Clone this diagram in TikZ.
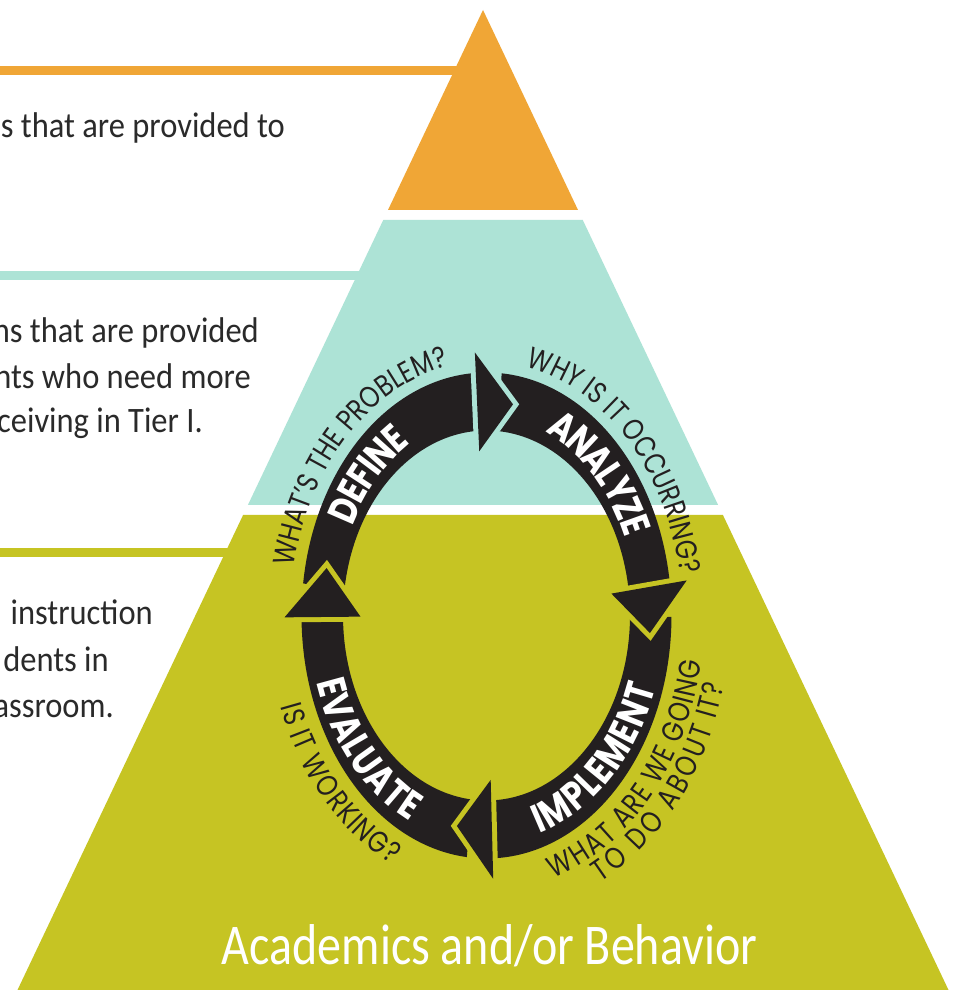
\documentclass[tikz,border=0pt]{standalone}
\usepackage{fontspec}
\setmainfont{Carlito}
\newfontfamily\ringfont[FakeStretch=0.8]{Poppins}
\newfontfamily\ringfontouter[FakeStretch=0.82]{Poppins}
\usetikzlibrary{decorations.text}
\definecolor{tierorange}{HTML}{F0A636}
\definecolor{tierteal}{HTML}{ADE3D6}
\definecolor{tierolive}{HTML}{C6C423}
\definecolor{ringblack}{HTML}{231F20}
\definecolor{textdark}{HTML}{2A2A2A}
\newcommand\innerfmt{\ringfont\bfseries\fontsize{40}{40}\selectfont\color{white}}
\newcommand\outerfmt{\ringfontouter\fontsize{30}{30}\selectfont\color{ringblack}}
\newcommand\ringband[2]{\fill[ringblack] (#1:185pt and 243pt) arc[start angle=#1, end angle=#2, x radius=185pt, y radius=243pt] -- (#2:143.5pt and 185pt) arc[start angle=#2, end angle=#1, x radius=143.5pt, y radius=185pt] -- cycle;}
\newcommand\ringhead[3]{%
  \draw[#3, line width=10pt, line join=miter] (#1:126pt and 164.5pt) -- (#1:202pt and 263.5pt) -- (#2:164pt and 214pt) -- cycle;
  \fill[ringblack] (#1:126pt and 164.5pt) -- (#1:202pt and 263.5pt) -- (#2:164pt and 214pt) -- cycle;}
\tikzset{
  lefttext/.style={anchor=base east, yscale=1.1, text=textdark, font=\fontsize{32.5}{32.5}\selectfont, inner sep=0pt},
  tierline/.style={line width=9pt},
}
\begin{document}
\begin{tikzpicture}[x=1pt, y=1pt]
\useasboundingbox (0,0) rectangle (955,990);
\fill[white] (0,0) rectangle (955,990);
% tier lines
\draw[tierline, tierorange] (0,919.5) -- (470,919.5);
\draw[tierline, tierteal] (0,714) -- (400,714);
\draw[tierline, tierolive] (0,437) -- (300,437);
% pyramid tiers
\fill[tierorange] (483,980) -- (578,780) -- (388,780) -- cycle;
\fill[tierteal] (383.25,770) -- (582.75,770) -- (718.1,485) -- (247.9,485) -- cycle;
\fill[tierolive] (243.1,475) -- (722.9,475) -- (948.5,0) -- (17.5,0) -- cycle;
% left texts
\node[lefttext] (t3a) at (285,852) {s that are provided to};
\node[lefttext] (t2a) at (259,647) {ns that are provided};
\node[lefttext] (t2b) at (251,601) {nts who need more};
\node[lefttext] (t2c) at (203,557) {ceiving in Tier I.};
\node[lefttext] (t1a) at (153,365) {instruction};
\node[lefttext] (t1b) at (109,318) {dents in};
\node[lefttext] (t1c) at (114,272) {assroom.};
\node[anchor=base, yscale=1.2, text=white, font=\fontsize{48}{48}\selectfont, inner sep=0pt] (acad) at (489.5,25) {Academics and/or Behavior};
% cycle
\begin{scope}[shift={(486.5,374.5)}]
\ringband{172.4}{93.3}
\ringband{85.3}{7.65}
\ringband{-0.35}{-88.1}
\ringband{-96.1}{-179.6}
\ringhead{93.3}{80.7}{tierteal}
\ringhead{7.65}{-4.7}{tierolive}
\ringhead{-88.1}{-100.4}{tierolive}
\ringhead{180.4}{167.2}{tierolive}
% inner words
\path[decorate, decoration={text along path, text align=center, raise=-14pt, text={|\innerfmt|DEFINE}}]
  (175:164pt and 214pt) arc[start angle=175, end angle=95, x radius=164pt, y radius=214pt];
\path[decorate, decoration={text along path, text align=center, raise=-14pt, text={|\innerfmt|ANALYZE}}]
  (88:164pt and 214pt) arc[start angle=88, end angle=5, x radius=164pt, y radius=214pt];
\path[decorate, decoration={text along path, text align=center, raise=-14pt, text={|\innerfmt|IMPLEMENT}}]
  (-92:164pt and 214pt) arc[start angle=-92, end angle=-4, x radius=164pt, y radius=214pt];
\path[decorate, decoration={text along path, text align=center, raise=-14pt, text={|\innerfmt|EVALUATE}}]
  (180:164pt and 214pt) arc[start angle=180, end angle=267, x radius=164pt, y radius=214pt];
% outer questions
\path[decorate, decoration={text along path, text align=center, text={|\outerfmt|WHAT’S THE PROBLEM?}}]
  (180:196pt and 254pt) arc[start angle=180, end angle=87, x radius=196pt, y radius=254pt];
\path[decorate, decoration={text along path, text align=center, text={|\outerfmt|WHY IS IT OCCURRING?}}]
  (92:196pt and 254pt) arc[start angle=92, end angle=-1, x radius=196pt, y radius=254pt];
\path[decorate, decoration={text along path, text align=center, raise=-23pt, text={|\outerfmt|IS IT WORKING?}}]
  (180:195pt and 253pt) arc[start angle=180, end angle=270, x radius=195pt, y radius=253pt];
\path[decorate, decoration={text along path, text align=center, raise=-23pt, text={|\outerfmt|WHAT ARE WE GOING}}]
  (-88:195pt and 253pt) arc[start angle=-88, end angle=2, x radius=195pt, y radius=253pt];
\path[decorate, decoration={text along path, text align=center, raise=-49pt, text={|\outerfmt|TO DO ABOUT IT?}}]
  (-86:195pt and 253pt) arc[start angle=-86, end angle=4, x radius=195pt, y radius=253pt];
\end{scope}
\end{tikzpicture}
\end{document}
